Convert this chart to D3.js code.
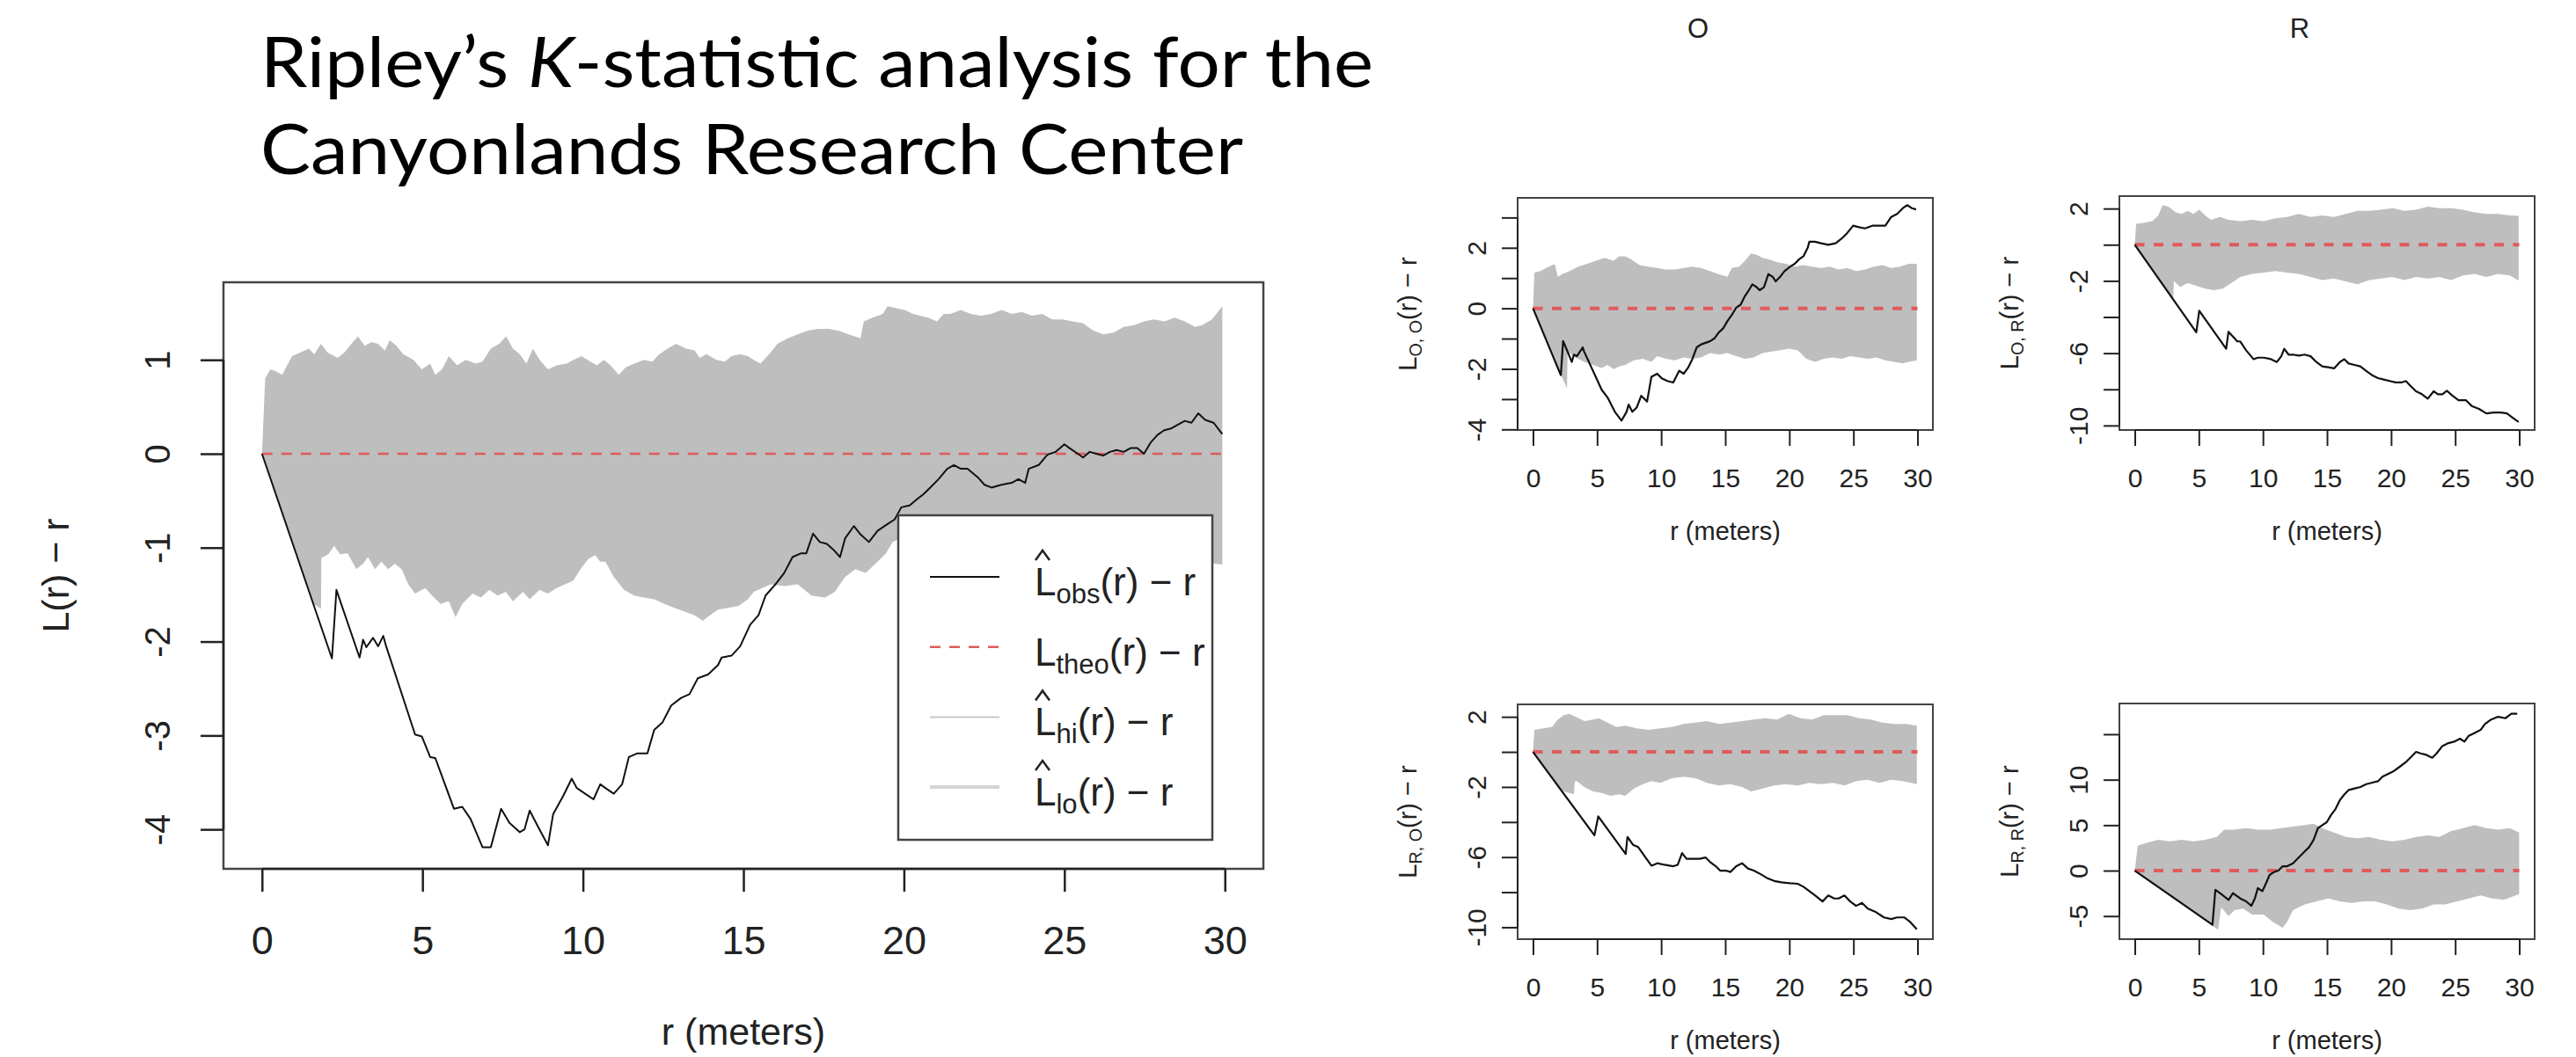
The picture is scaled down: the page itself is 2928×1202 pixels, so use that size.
<!DOCTYPE html>
<html>
<head>
<meta charset="utf-8">
<script src="https://cdn.jsdelivr.net/npm/d3@7"></script>
<style>
  body { margin: 0; background: #fff; }
  svg { display: block; }
</style>
</head>
<body>
<script>
// ---- data: [r, value] pairs ----

// main panel (all points)
let mainObs = [[0,0],[2.18,-2.18],[2.32,-1.45],[3.04,-2.17],[3.15,-1.98],[3.25,-2.06],[3.46,-1.96],[3.62,-2.05],[3.78,-1.94],[3.86,-2.04],
  [4.77,-2.99],[4.98,-3.01],[5.24,-3.23],[5.4,-3.24],[5.98,-3.78],[6.24,-3.76],[6.5,-3.89],[6.87,-4.19],[7.13,-4.19],[7.45,-3.78],
  [7.71,-3.93],[8.03,-4.03],[8.18,-4.0],[8.34,-3.8],[8.6,-3.97],[8.91,-4.17],[9.07,-3.84],[9.39,-3.64],[9.65,-3.46],[9.81,-3.56],
  [10.07,-3.62],[10.33,-3.68],[10.54,-3.52],[10.7,-3.56],[10.96,-3.62],[11.22,-3.52],[11.43,-3.23],[11.7,-3.19],[12.01,-3.19],[12.22,-2.94],
  [12.48,-2.86],[12.75,-2.68],[13.06,-2.6],[13.32,-2.56],[13.58,-2.39],[13.9,-2.35],[14.21,-2.25],[14.32,-2.17],[14.63,-2.15],[14.9,-2.05],
  [15.21,-1.82],[15.47,-1.72],[15.69,-1.51],[16.0,-1.39],[16.27,-1.27],[16.53,-1.1],[16.8,-1.06],[16.96,-1.06],[17.17,-0.85],[17.38,-0.94],
  [17.6,-0.96],[17.8,-1.02],[18.01,-1.1],[18.17,-0.9],[18.44,-0.77],[18.65,-0.86],[18.91,-0.94],[19.18,-0.82],[19.44,-0.76],[19.71,-0.7],
  [19.92,-0.57],[20.18,-0.55],[20.39,-0.49],[20.61,-0.43],[20.82,-0.36],[21.08,-0.27],[21.35,-0.16],[21.56,-0.12],[21.77,-0.16],[21.98,-0.16],
  [22.3,-0.25],[22.51,-0.33],[22.73,-0.36],[23.04,-0.33],[23.36,-0.31],[23.57,-0.27],[23.78,-0.31],[23.89,-0.16],[24.2,-0.12],[24.47,-0.01],
  [24.73,0.02],[25.0,0.1],[25.16,0.06],[25.42,0],[25.58,-0.04],[25.79,0.02],[26.0,0.0],[26.21,-0.02],[26.42,0.02],[26.63,0.04],
  [26.85,0.02],[27.06,0.06],[27.27,0.06],[27.48,0],[27.69,0.12],[27.9,0.2],[28.11,0.25],[28.33,0.27],[28.54,0.31],[28.75,0.35],
  [28.96,0.33],[29.17,0.43],[29.39,0.36],[29.65,0.33],[29.92,0.21]];
let mainHi = [[0,0],[0.1,0.8],[0.26,0.9],[0.42,0.88],[0.63,0.84],[0.78,0.94],[0.94,1.04],[1.2,1.08],[1.46,1.12],[1.63,1.06],
  [1.84,1.17],[2.04,1.08],[2.36,1.02],[2.57,1.08],[2.83,1.19],[2.99,1.25],[3.2,1.15],[3.41,1.19],[3.62,1.17],[3.83,1.1],
  [3.98,1.21],[4.19,1.15],[4.4,1.06],[4.72,1.0],[4.98,0.9],[5.24,0.96],[5.4,0.84],[5.61,0.9],[5.82,1.04],[6.08,0.94],
  [6.35,1.0],[6.66,0.96],[6.87,0.98],[7.13,1.12],[7.39,1.17],[7.61,1.25],[7.82,1.12],[8.03,1.06],[8.24,0.96],[8.44,1.12],
  [8.65,1.0],[8.91,0.9],[9.18,0.94],[9.49,0.96],[9.7,1.0],[9.96,1.04],[10.23,0.98],[10.44,0.94],[10.65,1.0],[10.86,0.94],
  [11.12,0.84],[11.33,0.92],[11.59,0.96],[11.9,1.0],[12.16,0.98],[12.38,1.06],[12.64,1.12],[12.9,1.17],[13.22,1.12],[13.48,1.1],
  [13.64,1.02],[13.85,1.06],[14.16,1.0],[14.42,0.98],[14.63,1.04],[14.9,1.06],[15.14,1.04],[15.32,1.0],[15.53,0.96],[15.85,1.08],
  [16.06,1.17],[16.38,1.23],[16.69,1.27],[17.01,1.31],[17.33,1.33],[17.64,1.33],[17.96,1.31],[18.28,1.27],[18.65,1.23],[18.75,1.41],
  [19.02,1.45],[19.34,1.49],[19.49,1.57],[19.76,1.55],[20.02,1.53],[20.29,1.49],[20.5,1.47],[20.76,1.45],[21.03,1.41],[21.24,1.49],
  [21.45,1.49],[21.77,1.53],[22.09,1.49],[22.4,1.47],[22.72,1.49],[23.04,1.53],[23.36,1.49],[23.67,1.51],[23.99,1.47],[24.31,1.49],
  [24.62,1.43],[24.94,1.43],[25.26,1.41],[25.58,1.39],[25.9,1.31],[26.21,1.27],[26.53,1.29],[26.85,1.35],[27.17,1.37],[27.48,1.41],
  [27.8,1.43],[28.12,1.41],[28.44,1.45],[28.75,1.41],[29.07,1.35],[29.29,1.37],[29.6,1.43],[29.92,1.57]];
let mainLo = [[0,0],[1.6,-1.6],[1.84,-1.65],[1.85,-1.11],[2.07,-1.07],[2.25,-0.98],[2.43,-1.07],[2.67,-1.06],[2.94,-1.23],[3.15,-1.17],
  [3.3,-1.1],[3.52,-1.23],[3.72,-1.15],[3.93,-1.23],[4.14,-1.17],[4.35,-1.23],[4.56,-1.39],[4.77,-1.49],[5.09,-1.43],[5.3,-1.51],
  [5.56,-1.6],[5.82,-1.57],[6.03,-1.74],[6.24,-1.6],[6.56,-1.49],[6.82,-1.53],[7.08,-1.45],[7.34,-1.51],[7.6,-1.47],[7.82,-1.57],
  [8.13,-1.47],[8.34,-1.55],[8.65,-1.45],[8.91,-1.49],[9.18,-1.43],[9.44,-1.39],[9.7,-1.35],[9.96,-1.21],[10.17,-1.12],[10.38,-1.08],
  [10.54,-1.15],[10.7,-1.15],[10.96,-1.31],[11.28,-1.45],[11.59,-1.51],[11.9,-1.53],[12.22,-1.55],[12.54,-1.6],[12.85,-1.64],[13.17,-1.68],
  [13.48,-1.72],[13.74,-1.78],[13.95,-1.72],[14.21,-1.66],[14.53,-1.64],[14.85,-1.62],[15.14,-1.55],[15.32,-1.47],[15.85,-1.39],[16.27,-1.41],
  [16.69,-1.39],[17.12,-1.51],[17.54,-1.53],[17.85,-1.47],[18.17,-1.31],[18.49,-1.23],[18.81,-1.27],[19.18,-1.15],[19.44,-1.06],[19.65,-0.94],
  [19.9,-0.9],[21,-0.95],[22.5,-1.05],[24,-1.1],[25.5,-1.05],[27,-1.15],[28.5,-1.2],[29.7,-1.17],[29.92,-1.18]];

// O-O panel
let ooObs = [[0,0],[2.17,-2.21],[2.35,-1.08],[3.03,-1.77],[3.19,-1.53],[3.42,-1.58],[3.88,-1.29],[3.99,-1.43],[5.36,-2.69],[5.81,-2.94],
  [6.39,-3.42],[6.91,-3.71],[7.3,-3.42],[7.46,-3.18],[7.75,-3.42],[8.1,-3.27],[8.44,-2.89],[8.67,-2.98],[8.9,-3.08],[9.24,-2.26],
  [9.69,-2.16],[10.04,-2.31],[10.49,-2.4],[10.94,-2.45],[11.41,-2.06],[11.75,-2.16],[12.09,-1.97],[12.43,-1.68],[12.77,-1.29],[13.12,-1.19],
  [13.46,-1.14],[13.8,-1.09],[14.14,-1.0],[14.49,-0.8],[14.84,-0.66],[15.17,-0.42],[15.51,-0.22],[15.85,0.02],[16.2,0.12],[16.54,0.41],
  [16.77,0.55],[17.11,0.79],[17.45,0.7],[17.68,0.6],[18.02,0.7],[18.36,1.13],[18.71,1.04],[18.93,0.89],[19.28,1.04],[19.62,1.23],
  [20.07,1.38],[20.42,1.47],[20.76,1.62],[21.1,1.72],[21.44,2.01],[21.56,2.2],[22.0,2.2],[22.47,2.15],[23.04,2.1],[23.61,2.15],
  [24.07,2.3],[24.52,2.49],[24.98,2.73],[25.44,2.68],[25.9,2.64],[26.47,2.73],[27.03,2.73],[27.49,2.73],[27.95,3.02],[28.41,3.12],
  [28.86,3.31],[29.2,3.41],[29.55,3.31],[29.89,3.27]];
let ooHi = [[0,0],[0.11,1.18],[0.57,1.23],[1.02,1.33],[1.48,1.43],[1.7,1.46],[1.94,1.04],[2.28,1.13],[2.85,1.23],[3.53,1.38],
  [4.22,1.47],[4.9,1.57],[5.59,1.67],[6.28,1.57],[6.73,1.72],[7.19,1.72],[7.64,1.62],[8.32,1.43],[9.01,1.38],[9.7,1.33],
  [10.38,1.28],[11.06,1.28],[11.75,1.33],[12.43,1.38],[13.12,1.33],[13.8,1.23],[14.49,1.13],[15.17,1.04],[15.51,1.33],[16.08,1.38],
  [16.54,1.57],[17.0,1.81],[17.45,1.77],[17.91,1.67],[18.37,1.62],[19.05,1.52],[19.73,1.47],[20.42,1.38],[21.1,1.43],[21.79,1.38],
  [22.47,1.33],[23.16,1.38],[23.84,1.28],[24.52,1.33],[25.21,1.23],[25.9,1.28],[26.58,1.38],[27.26,1.43],[27.95,1.33],[28.63,1.38],
  [29.32,1.47],[29.95,1.47]];
let ooLo = [[0,0],[2.65,-2.65],[2.7,-1.48],[2.85,-1.48],[3.31,-1.62],[4.0,-1.77],[4.68,-1.87],[5.36,-1.97],[5.81,-1.87],[6.28,-2.01],
  [6.73,-1.92],[7.19,-1.87],[7.87,-1.72],[8.56,-1.67],[9.24,-1.77],[9.69,-1.58],[10.38,-1.67],[11.06,-1.72],[11.75,-1.62],[12.43,-1.67],
  [13.12,-1.62],[13.8,-1.48],[14.49,-1.53],[15.17,-1.48],[15.85,-1.58],[16.54,-1.67],[17.22,-1.62],[17.91,-1.48],[18.6,-1.43],[19.28,-1.38],
  [19.97,-1.33],[20.65,-1.38],[21.33,-1.67],[22.0,-1.77],[22.7,-1.67],[23.38,-1.62],[24.07,-1.67],[24.75,-1.58],[25.44,-1.62],[26.12,-1.67],
  [26.8,-1.62],[27.49,-1.72],[28.17,-1.77],[28.86,-1.82],[29.32,-1.77],[29.95,-1.72]];

// O-R panel
let orObs = [[0,0],[4.8,-4.84],[5.03,-3.65],[7.13,-5.76],[7.31,-4.82],[7.66,-5.08],[8.0,-5.35],[8.23,-5.35],[8.69,-5.84],[9.26,-6.33],
  [9.6,-6.25],[10.06,-6.25],[10.63,-6.33],[11.09,-6.49],[11.43,-6.17],[11.66,-5.76],[12.0,-6.08],[12.35,-6.08],[12.8,-6.13],[13.26,-6.08],
  [13.72,-6.17],[14.17,-6.49],[14.63,-6.73],[15.09,-6.78],[15.55,-6.84],[16.0,-6.49],[16.35,-6.33],[16.69,-6.57],[17.15,-6.65],[17.6,-6.73],
  [18.06,-6.98],[18.52,-7.22],[18.98,-7.38],[19.43,-7.46],[19.89,-7.54],[20.35,-7.62],[20.8,-7.62],[21.15,-7.54],[21.49,-7.79],[21.95,-8.11],
  [22.41,-8.27],[22.86,-8.52],[23.32,-8.11],[23.66,-8.27],[24.0,-8.27],[24.35,-8.08],[24.8,-8.36],[25.26,-8.6],[25.83,-8.6],[26.29,-8.92],
  [26.86,-9.08],[27.43,-9.33],[28.0,-9.28],[28.58,-9.28],[29.04,-9.33],[29.49,-9.57],[29.95,-9.81]];
let orHi = [[0,0],[0.11,1.16],[0.69,1.21],[1.37,1.3],[1.83,1.62],[2.17,2.19],[2.63,2.11],[3.2,1.79],[3.66,1.7],[4.12,1.87],
  [4.57,1.7],[5.03,1.94],[5.49,1.62],[5.94,1.38],[6.63,1.54],[7.32,1.38],[8.23,1.3],[9.15,1.38],[10.06,1.3],[10.97,1.46],
  [11.89,1.54],[12.8,1.7],[13.72,1.54],[14.63,1.62],[15.55,1.54],[16.46,1.7],[17.37,1.87],[18.29,1.87],[19.2,1.94],[20.12,2.02],
  [21.03,1.87],[21.95,1.94],[22.86,2.11],[23.78,2.02],[24.69,2.02],[25.61,1.94],[26.52,1.79],[27.43,1.7],[28.35,1.7],[29.26,1.62],
  [29.95,1.59]];
let orLo = [[0,0],[3.0,-3.0],[3.05,-2.0],[3.54,-2.35],[4.12,-2.11],[4.8,-2.27],[5.49,-2.43],[6.17,-2.52],[6.86,-2.43],[7.54,-2.11],
  [8.23,-1.79],[9.15,-1.62],[10.06,-1.54],[10.97,-1.46],[11.89,-1.54],[12.8,-1.62],[13.72,-1.79],[14.63,-1.95],[15.55,-1.87],[16.46,-2.03],
  [17.37,-2.19],[18.29,-1.95],[19.2,-1.87],[20.12,-1.79],[21.03,-1.95],[21.95,-1.79],[22.86,-1.87],[23.78,-1.79],[24.69,-1.95],[25.61,-1.7],
  [26.52,-1.62],[27.43,-1.79],[28.35,-1.62],[29.26,-1.7],[29.95,-1.98]];

// R-O panel
let roObs = [[0,0],[4.79,-4.76],[5.09,-3.68],[7.23,-5.82],[7.37,-4.85],[7.8,-5.3],[8.21,-5.43],[8.78,-6.02],[9.24,-6.49],[9.7,-6.35],
  [10.26,-6.44],[10.95,-6.52],[11.29,-6.44],[11.63,-5.77],[11.98,-6.1],[12.43,-6.1],[13.0,-6.1],[13.46,-6.02],[13.8,-6.27],[14.26,-6.52],
  [14.6,-6.77],[15.06,-6.77],[15.4,-6.85],[15.86,-6.52],[16.31,-6.35],[16.77,-6.65],[17.23,-6.77],[17.68,-6.94],[18.25,-7.19],[18.82,-7.36],
  [19.39,-7.44],[20.08,-7.49],[20.65,-7.52],[21.1,-7.69],[21.56,-7.94],[22.02,-8.19],[22.59,-8.53],[23.04,-8.19],[23.5,-8.36],[23.84,-8.36],
  [24.3,-8.19],[24.75,-8.53],[25.21,-8.78],[25.67,-8.61],[26.12,-8.94],[26.69,-9.11],[27.38,-9.44],[27.95,-9.53],[28.41,-9.44],[28.98,-9.44],
  [29.43,-9.7],[29.95,-10.11]];
let roHi = [[0,0],[0.11,1.25],[0.8,1.34],[1.48,1.42],[1.94,1.84],[2.4,2.09],[2.85,2.17],[3.31,2.01],[4.0,1.76],[4.68,1.84],
  [5.13,1.92],[5.82,1.67],[6.5,1.42],[7.19,1.5],[8.1,1.34],[9.01,1.25],[9.93,1.34],[10.84,1.42],[11.75,1.59],[12.68,1.67],
  [13.58,1.76],[14.49,1.59],[15.4,1.67],[16.31,1.76],[17.22,1.84],[18.14,1.92],[19.05,1.84],[19.96,2.17],[20.87,1.92],[21.79,1.84],
  [22.7,2.09],[23.61,2.09],[24.52,2.09],[25.44,1.92],[26.35,1.84],[27.26,1.67],[28.18,1.59],[29.09,1.59],[29.95,1.5]];
let roLo = [[0,0],[2.2,-2.2],[2.6,-2.3],[3.2,-2.4],[3.25,-1.7],[3.42,-1.67],[4.0,-2.0],[4.68,-2.26],[5.36,-2.34],[6.05,-2.51],
  [6.73,-2.42],[7.19,-2.51],[7.87,-2.09],[8.56,-1.84],[9.24,-1.67],[9.93,-1.76],[10.84,-1.5],[11.75,-1.42],[12.68,-1.5],[13.58,-1.76],
  [14.49,-1.92],[15.4,-1.84],[16.31,-2.0],[17.0,-2.26],[17.91,-2.09],[18.82,-1.92],[19.73,-1.84],[20.65,-1.92],[21.56,-1.76],[22.47,-1.84],
  [23.38,-1.76],[24.3,-1.92],[25.21,-1.67],[26.12,-1.59],[27.03,-1.76],[27.95,-1.59],[28.86,-1.67],[29.95,-1.84]];

// R-R panel
let rrObs = [[0,0],[6.06,-5.96],[6.29,-2.1],[6.74,-2.58],[7.32,-3.22],[7.66,-2.48],[8.23,-3.06],[8.69,-3.38],[9.1,-3.87],[9.37,-3.06],
  [9.6,-1.93],[9.95,-2.26],[10.17,-1.61],[10.52,-0.48],[10.86,-0.16],[11.2,0],[11.54,0.48],[11.89,0.48],[12.35,0.81],[12.8,1.45],
  [13.26,2.1],[13.6,2.58],[13.95,3.38],[14.29,4.67],[14.63,5.0],[14.98,5.32],[15.32,6.13],[15.66,6.77],[16.0,7.74],[16.35,8.38],
  [16.69,8.87],[17.15,9.03],[17.6,9.19],[18.06,9.51],[18.52,9.67],[18.98,9.83],[19.32,10.32],[19.78,10.64],[20.23,10.96],[20.69,11.44],
  [21.15,11.93],[21.49,12.41],[21.95,13.06],[22.3,12.89],[22.75,12.73],[23.21,12.41],[23.55,12.89],[24.0,13.7],[24.46,14.02],[24.92,14.18],
  [25.38,14.51],[25.72,14.18],[26.06,14.83],[26.52,15.15],[26.98,15.47],[27.32,16.12],[27.78,16.6],[28.35,16.92],[28.92,16.76],[29.38,17.25],
  [29.84,17.25]];
let rrHi = [[0,0],[0.23,2.74],[0.91,3.06],[1.83,3.38],[2.74,3.22],[3.66,3.38],[4.57,3.22],[5.49,3.38],[6.4,3.71],[6.97,4.51],
  [7.77,4.51],[8.69,4.67],[9.6,4.51],[10.52,4.51],[11.43,4.67],[12.35,4.84],[13.26,5.0],[13.95,5.16],[14.63,4.67],[15.55,4.19],
  [16.46,3.71],[17.37,3.55],[18.29,3.71],[19.2,3.38],[20.12,3.22],[21.03,3.38],[21.95,3.71],[22.86,3.87],[23.78,3.71],[24.69,4.35],
  [25.61,4.67],[26.52,5.0],[27.43,4.67],[28.35,4.51],[29.26,4.67],[29.99,4.19]];
let rrLo = [[0,0],[6.5,-6.5],[6.74,-4.03],[7.32,-5.0],[7.77,-4.35],[8.46,-4.19],[9.15,-4.84],[10.06,-4.84],[10.75,-5.64],[11.54,-6.29],
  [11.89,-5.64],[12.35,-4.35],[13.26,-3.71],[14.17,-3.38],[15.09,-3.06],[16.0,-3.38],[16.92,-3.55],[17.83,-3.38],[18.75,-3.38],[19.66,-3.71],
  [20.58,-4.19],[21.49,-4.35],[22.41,-4.19],[23.32,-3.71],[24.23,-3.71],[25.15,-3.38],[26.06,-3.06],[26.98,-2.74],[27.89,-3.06],[28.81,-3.22],
  [29.99,-2.58]];

let theoLine = [[0,0],[30,0]];

// ticks and labels
let rTicks = [0, 5, 10, 15, 20, 25, 30];
let mainYTicks = [-4, -3, -2, -1, 0, 1];
let ooYTicks = [-4, -3, -2, -1, 0, 1, 2, 3];
let ooYLabels = [-4, -2, 0, 2];
let crossYTicks = [-10, -8, -6, -4, -2, 0, 2];
let crossYLabels = [-10, -6, -2, 2];
let rrYTicks = [-5, 0, 5, 10, 15];
let rrYLabels = [-5, 0, 5, 10];

let titleLines = ["Ripley\u2019s ", "K", "-statistic analysis for the", "Canyonlands Research Center"];
let legendRows = [
  {main: "L", sub: "obs", hat: true},
  {main: "L", sub: "theo", hat: false},
  {main: "L", sub: "hi", hat: true},
  {main: "L", sub: "lo", hat: true}
];

// ---- drawing ----
let w = 2928, h = 1202;
let plotFont = "'Liberation Sans', Arial, Helvetica, sans-serif";
let ink = "#222";
let bandColor = "#bebebe";
let theoColor = "#e05a5a";

let svg = d3.select("body")
            .append("svg")
            .attr("width", w)
            .attr("height", h);

svg.append("rect").attr("width", w).attr("height", h).attr("fill", "#fff");

// title
let title = svg.append("g")
               .attr("font-family", "Lato, 'Open Sans', sans-serif")
               .attr("font-size", 80)
               .attr("fill", "#000");

let t1 = title.append("text")
              .attr("x", 296).attr("y", 99)
              .attr("textLength", 1265).attr("lengthAdjust", "spacingAndGlyphs");
t1.append("tspan").text(titleLines[0]);
t1.append("tspan").attr("font-style", "italic").text(titleLines[1]);
t1.append("tspan").text(titleLines[2]);

title.append("text")
     .attr("x", 296).attr("y", 198)
     .attr("textLength", 1117).attr("lengthAdjust", "spacingAndGlyphs")
     .text(titleLines[3]);

function drawPanel(p) {
  let g = svg.append("g");

  let x = d3.scaleLinear().domain(p.xDomain).range([p.left, p.right]);
  let y = d3.scaleLinear().domain(p.yDomain).range([p.bottom, p.top]);

  let line = d3.line()
               .x(d => x(d[0]))
               .y(d => y(d[1]));

  // envelope: upper edge forwards, lower edge backwards
  g.append("path")
   .attr("d", line(p.hi.concat(p.lo.slice().reverse())) + "Z")
   .attr("fill", bandColor)
   .attr("stroke", "none");

  g.append("path")
   .attr("d", line(theoLine))
   .attr("fill", "none")
   .attr("stroke", theoColor)
   .attr("stroke-width", p.theoWidth)
   .attr("stroke-dasharray", p.dash);

  g.append("path")
   .attr("d", line(p.obs))
   .attr("fill", "none")
   .attr("stroke", "#111")
   .attr("stroke-width", p.obsWidth)
   .attr("stroke-linejoin", "round");

  g.append("rect")
   .attr("x", p.left).attr("y", p.top)
   .attr("width", p.right - p.left).attr("height", p.bottom - p.top)
   .attr("fill", "none")
   .attr("stroke", "#444")
   .attr("stroke-width", p.boxWidth);

  // x axis
  let gx = g.append("g")
            .attr("transform", "translate(0," + p.bottom + ")")
            .call(d3.axisBottom(x)
                    .tickValues(rTicks)
                    .tickSize(p.tickLen)
                    .tickPadding(p.xPad)
                    .tickFormat(d => String(d)));
  gx.select(".domain").remove();
  gx.selectAll("line").attr("stroke", ink).attr("stroke-width", p.boxWidth);
  gx.selectAll("text")
    .attr("font-family", plotFont)
    .attr("font-size", p.tickFont)
    .attr("fill", ink);
  g.append("line")
   .attr("x1", x(rTicks[0])).attr("x2", x(rTicks[rTicks.length - 1]))
   .attr("y1", p.bottom).attr("y2", p.bottom)
   .attr("stroke", ink).attr("stroke-width", p.boxWidth);

  // y axis, labels rotated like R's default
  let gy = g.append("g")
            .attr("transform", "translate(" + p.left + ",0)")
            .call(d3.axisLeft(y)
                    .tickValues(p.yTicks)
                    .tickSize(p.tickLen)
                    .tickFormat(d => p.yLabels.includes(d) ? String(d) : ""));
  gy.select(".domain").remove();
  gy.selectAll("line").attr("stroke", ink).attr("stroke-width", p.boxWidth);
  gy.selectAll("text")
    .attr("x", null).attr("dy", null)
    .attr("text-anchor", "middle")
    .attr("transform", "translate(" + (-p.yLabOff) + ",0) rotate(-90)")
    .attr("font-family", plotFont)
    .attr("font-size", p.yTickFont)
    .attr("fill", ink);
  g.append("line")
   .attr("x1", p.left).attr("x2", p.left)
   .attr("y1", y(p.yTicks[0])).attr("y2", y(p.yTicks[p.yTicks.length - 1]))
   .attr("stroke", ink).attr("stroke-width", p.boxWidth);

  // axis titles
  g.append("text")
   .attr("x", (p.left + p.right) / 2)
   .attr("y", p.bottom + p.xTitleOff)
   .attr("text-anchor", "middle")
   .attr("font-family", plotFont)
   .attr("font-size", p.titleFont)
   .attr("fill", ink)
   .text("r (meters)");

  let yt = g.append("text")
            .attr("text-anchor", "middle")
            .attr("transform", "translate(" + (p.left - p.yTitleOff) + "," + ((p.top + p.bottom) / 2) + ") rotate(-90)")
            .attr("font-family", plotFont)
            .attr("font-size", p.titleFont)
            .attr("fill", ink);
  yt.append("tspan").text("L");
  if (p.ySub) {
    yt.append("tspan").attr("font-size", p.titleFont * 0.68).attr("dy", p.titleFont * 0.22).text(p.ySub);
    yt.append("tspan").attr("dy", -p.titleFont * 0.22).text("(r) \u2212 r");
  } else {
    yt.append("tspan").text("(r) \u2212 r");
  }

  if (p.header) {
    svg.append("text")
       .attr("x", (p.left + p.right) / 2 - 31)
       .attr("y", 43)
       .attr("text-anchor", "middle")
       .attr("font-family", plotFont)
       .attr("font-size", 31)
       .attr("fill", ink)
       .text(p.header);
  }

  return {g: g, x: x, y: y};
}

let main = drawPanel({
  obs: mainObs, hi: mainHi, lo: mainLo,
  left: 254, right: 1436, top: 321, bottom: 988,
  xDomain: [-1.2, 31.2], yDomain: [-4.42, 1.826],
  yTicks: mainYTicks, yLabels: mainYTicks,
  tickLen: 26, xPad: 39, yLabOff: 61,
  tickFont: 45, yTickFont: 40, titleFont: 43,
  xTitleOff: 200, yTitleOff: 176,
  obsWidth: 2, theoWidth: 2.5, dash: "12,10", boxWidth: 2.5
});

let small = {
  xDomain: [-1.2, 31.2],
  tickLen: 18, xPad: 26, yLabOff: 36,
  tickFont: 30, yTickFont: 30, titleFont: 29,
  xTitleOff: 125, yTitleOff: 115,
  obsWidth: 2.2, theoWidth: 4, dash: "11,10.5", boxWidth: 2
};

drawPanel(Object.assign({}, small, {
  obs: ooObs, hi: ooHi, lo: ooLo, header: "O",
  left: 1725, right: 2197, top: 225, bottom: 489,
  yDomain: [-4.02, 3.65], yTicks: ooYTicks, yLabels: ooYLabels, ySub: "O, O"
}));

drawPanel(Object.assign({}, small, {
  obs: orObs, hi: orHi, lo: orLo, header: "R",
  left: 2409, right: 2881, top: 223, bottom: 489,
  yDomain: [-10.25, 2.69], yTicks: crossYTicks, yLabels: crossYLabels, ySub: "O, R"
}));

drawPanel(Object.assign({}, small, {
  obs: roObs, hi: roHi, lo: roLo,
  left: 1725, right: 2197, top: 801, bottom: 1068,
  yDomain: [-10.68, 2.71], yTicks: crossYTicks, yLabels: crossYLabels, ySub: "R, O"
}));

drawPanel(Object.assign({}, small, {
  obs: rrObs, hi: rrHi, lo: rrLo,
  left: 2409, right: 2881, top: 800, bottom: 1068,
  yDomain: [-7.54, 18.38], yTicks: rrYTicks, yLabels: rrYLabels, ySub: "R, R"
}));

// legend of the main panel
let legend = main.g.append("g");
legend.append("rect")
      .attr("x", 1021).attr("y", 586)
      .attr("width", 357).attr("height", 369)
      .attr("fill", "#fff")
      .attr("stroke", "#444")
      .attr("stroke-width", 2.5);

let sampleStyles = [
  {color: "#111", width: 2, dash: null},
  {color: theoColor, width: 2.5, dash: "12,10"},
  {color: "#c8c8c8", width: 2, dash: null},
  {color: "#d4d4d4", width: 4, dash: null}
];

legendRows.forEach((row, i) => {
  let ly = 656 + i * 79.7;
  legend.append("line")
        .attr("x1", 1057).attr("x2", 1136)
        .attr("y1", ly).attr("y2", ly)
        .attr("stroke", sampleStyles[i].color)
        .attr("stroke-width", sampleStyles[i].width)
        .attr("stroke-dasharray", sampleStyles[i].dash);

  let by = ly + 21;
  let t = legend.append("text")
                .attr("x", 1176).attr("y", by)
                .attr("font-family", plotFont)
                .attr("font-size", 44)
                .attr("fill", ink);
  t.append("tspan").text(row.main);
  t.append("tspan").attr("font-size", 31).attr("dy", 9).text(row.sub);
  t.append("tspan").attr("dy", -9).text("(r) \u2212 r");

  if (row.hat) {
    legend.append("path")
          .attr("d", "M" + 1177 + "," + (by - 40) + "L" + 1185 + "," + (by - 51) + "L" + 1193 + "," + (by - 40))
          .attr("fill", "none")
          .attr("stroke", ink)
          .attr("stroke-width", 2.5);
  }
});
</script>
</body>
</html>
